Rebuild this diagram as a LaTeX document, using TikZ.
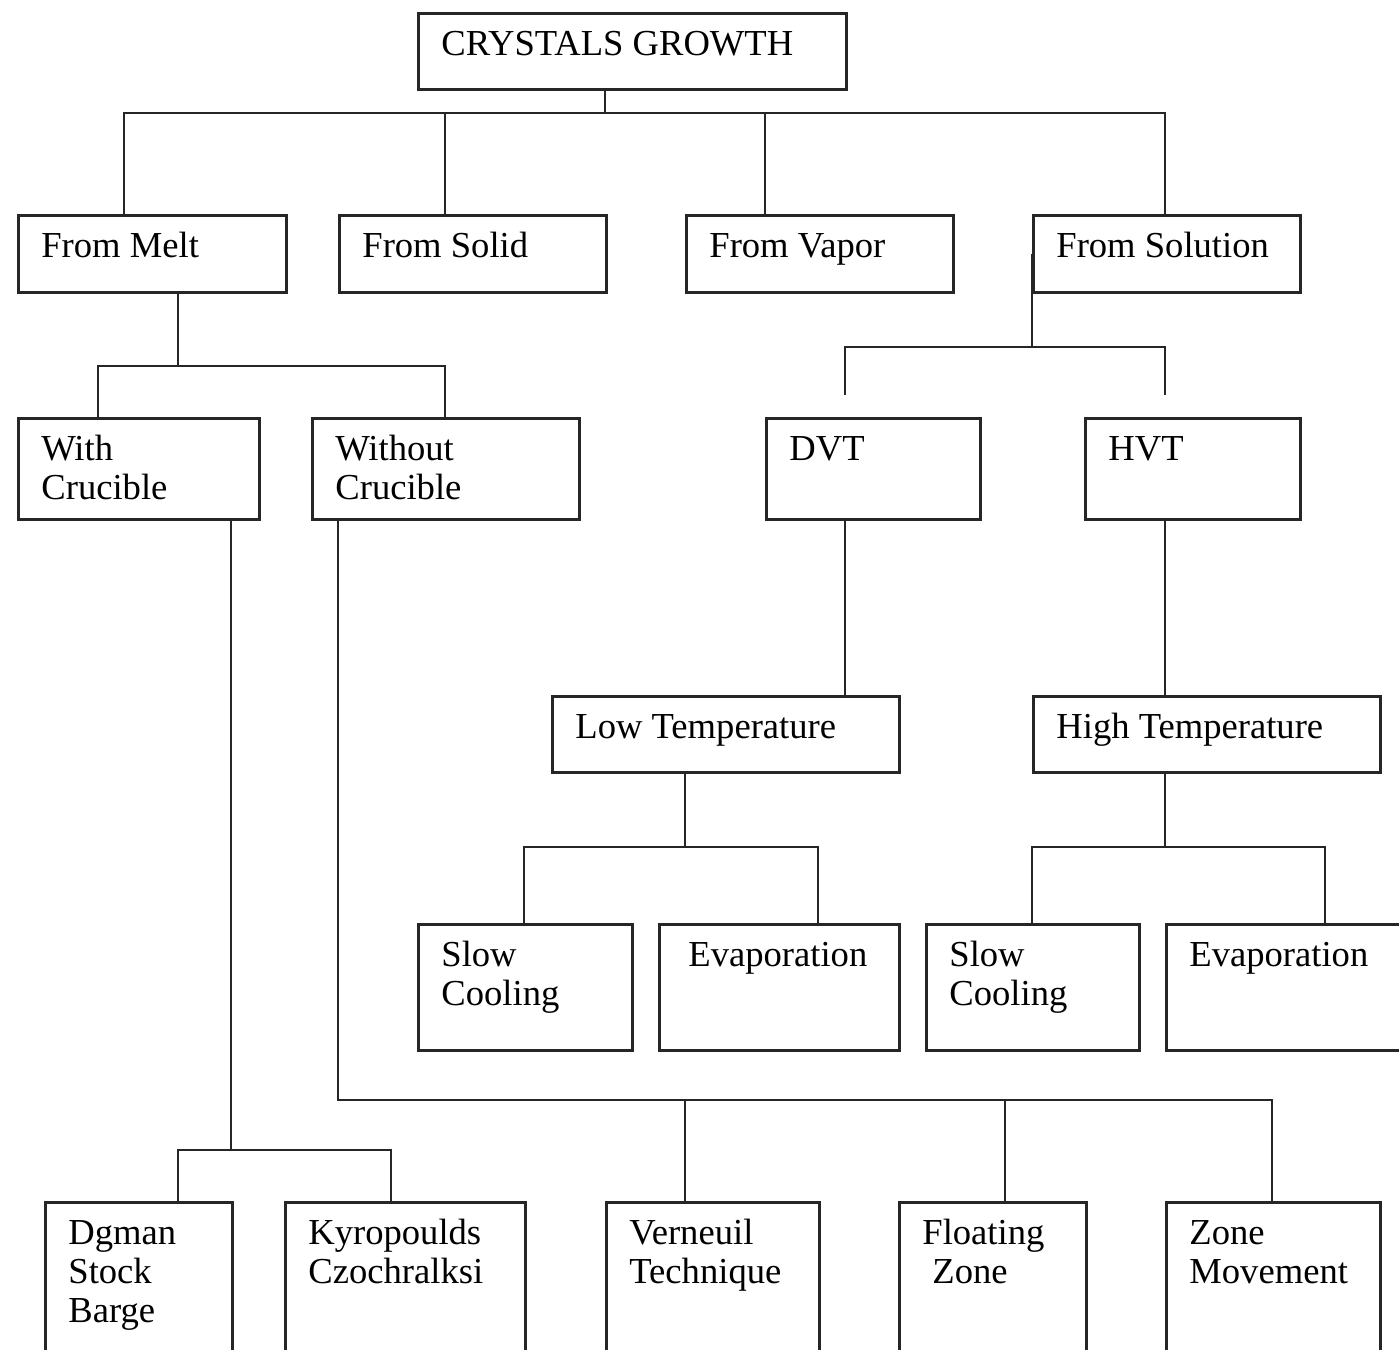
\documentclass[tikz,border=0pt]{standalone}
\usepackage{fontspec}
\setmainfont{Liberation Serif}
\usetikzlibrary{calc}
\tikzset{
  boxst/.style={draw=black!85, line width=1.3pt, rectangle, inner sep=0pt, anchor=north west},
  txt/.style={inner sep=0pt, anchor=base west, font=\fontsize{18.3}{19.5}\selectfont, text=black},
  wire/.style={draw=black!85, line width=1.3pt},
}
\newcommand{\bx}[6]{%
  \node[boxst, minimum width={(#4-#2)*0.5pt}, minimum height={(#5-#3)*0.5pt}] (#1) at (#2,#3) {};
  \node[txt] (#1-t) at (#2+24,#3+43) {\begin{tabular}[t]{@{}l@{}}#6\end{tabular}};
}
\begin{document}
\begin{tikzpicture}[x=0.5pt, y=-0.5pt]
\clip (0,0) rectangle (1399,1350);
\fill[white] (0,0) rectangle (1399,1350);
% boxes
\bx{root}{417}{12}{845}{88}{CRYSTALS GROWTH}
\bx{melt}{17}{214}{285}{291}{From Melt}
\bx{solid}{338}{214}{605}{291}{From Solid}
\bx{vapor}{685}{214}{952}{291}{From Vapor}
\bx{sol}{1032}{214}{1299}{291}{From Solution}
\bx{withc}{17}{417}{258}{518}{With\\Crucible}
\bx{woc}{311}{417}{578}{518}{Without\\Crucible}
\bx{dvt}{765}{417}{979}{518}{DVT}
\bx{hvt}{1084}{417}{1299}{518}{HVT}
\bx{lowt}{551}{695}{898}{771}{Low Temperature}
\bx{hight}{1032}{695}{1379}{771}{High Temperature}
\bx{sca}{417}{923}{631}{1049}{Slow\\Cooling}
\bx{eva}{658}{923}{898}{1049}{\hspace{3pt}Evaporation}
\bx{scb}{925}{923}{1138}{1049}{Slow\\Cooling}
\bx{evb}{1165}{923}{1440}{1049}{Evaporation}
\bx{dg}{44}{1201}{231}{1400}{Dgman\\Stock\\Barge}
\bx{ky}{284}{1201}{524}{1400}{Kyropoulds\\Czochralksi}
\bx{ve}{605}{1201}{818}{1400}{Verneuil\\Technique}
\bx{fl}{898}{1201}{1085}{1400}{Floating\\\hspace{5pt}Zone}
\bx{zm}{1165}{1201}{1379}{1400}{Zone\\Movement}
% root tree
\coordinate (r0) at (605,113);
\coordinate (rL) at (124,113);
\coordinate (rR) at (1165,113);
\coordinate (r2) at (445,113);
\coordinate (r3) at (765,113);
\draw[wire] (root.south -| r0) -- (r0);
\draw[wire] (melt.north -| rL) -- (rL) -- (rR) -- (sol.north -| rR);
\draw[wire] (r2) -- (solid.north -| r2);
\draw[wire] (r3) -- (vapor.north -| r3);
% melt tree
\coordinate (m0) at (178,366);
\coordinate (mL) at (98,366);
\coordinate (mR) at (445,366);
\draw[wire] (melt.south -| m0) -- (m0);
\draw[wire] (withc.north -| mL) -- (mL) -- (mR) -- (woc.north -| mR);
% solution tree
\coordinate (s0) at (1032,347);
\coordinate (sL) at (845,347);
\coordinate (sR) at (1165,347);
\coordinate (sLe) at (845,395);
\coordinate (sRe) at (1165,395);
\draw[wire] (sol.west) -- (s0);
\draw[wire] (sLe) -- (sL) -- (sR) -- (sRe);
% DVT / HVT
\draw[wire] (dvt.south -| sL) -- (lowt.north -| sL);
\draw[wire] (hvt.south -| sR) -- (hight.north -| sR);
% low temperature tree
\coordinate (l0) at (685,847);
\coordinate (lL) at (524,847);
\coordinate (lR) at (818,847);
\draw[wire] (lowt.south -| l0) -- (l0);
\draw[wire] (sca.north -| lL) -- (lL) -- (lR) -- (eva.north -| lR);
% high temperature tree
\coordinate (h0) at (1165,847);
\coordinate (hL) at (1032,847);
\coordinate (hR) at (1325,847);
\draw[wire] (hight.south -| h0) -- (h0);
\draw[wire] (scb.north -| hL) -- (hL) -- (hR) -- (evb.north -| hR);
% with crucible tree
\coordinate (w0) at (231,1150);
\coordinate (wL) at (178,1150);
\coordinate (wR) at (391,1150);
\draw[wire] (withc.south -| w0) -- (w0);
\draw[wire] (dg.north -| wL) -- (wL) -- (wR) -- (ky.north -| wR);
% without crucible tree
\coordinate (v0) at (338,1100);
\coordinate (v1) at (685,1100);
\coordinate (v2) at (1005,1100);
\coordinate (vR) at (1272,1100);
\draw[wire] (woc.south -| v0) -- (v0) -- (vR) -- (zm.north -| vR);
\draw[wire] (v1) -- (ve.north -| v1);
\draw[wire] (v2) -- (fl.north -| v2);
\end{tikzpicture}
\end{document}
